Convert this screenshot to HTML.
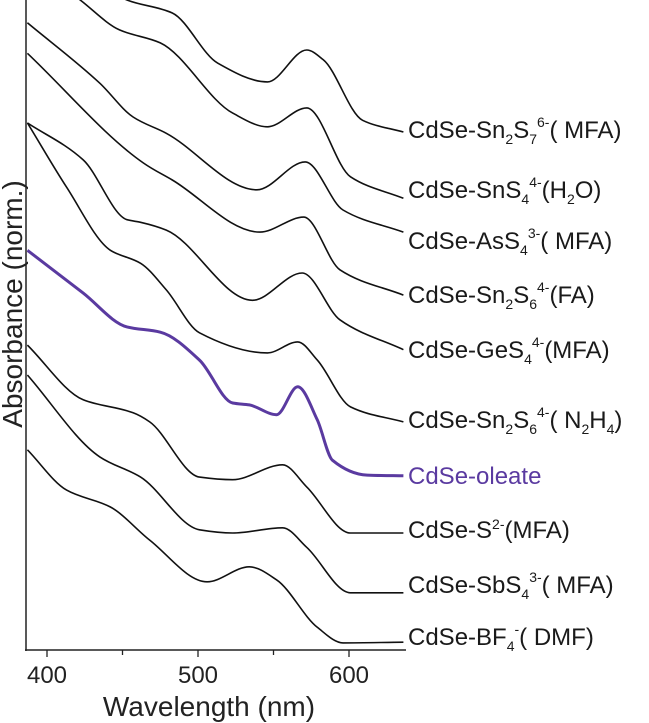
<!DOCTYPE html>
<html><head><meta charset="utf-8"><style>
body{margin:0;background:#fff}
svg{display:block;font-family:"Liberation Sans",Arial,sans-serif}
.lab{font-size:24px;fill:#1a1a1a}
.sub{font-size:14px}
</style></head><body>
<svg id="chart" width="649" height="723" viewBox="0 0 649 723">
<defs><clipPath id="plotclip"><rect x="27" y="0" width="380" height="650"/></clipPath></defs>
<g id="series" clip-path="url(#plotclip)"></g>
<line x1="26" y1="0" x2="26" y2="651" stroke="#222" stroke-width="1.5"/>
<line x1="25" y1="650" x2="406" y2="650" stroke="#222" stroke-width="1.5"/>
<g id="ticks"></g>
<text x="209" y="716" text-anchor="middle" font-size="28" fill="#222">Wavelength (nm)</text>
<text transform="translate(22,304) rotate(-90)" text-anchor="middle" font-size="28" fill="#222">Absorbance (norm.)</text>
<g>
<text class="lab" x="408" y="138">CdSe-Sn<tspan class="sub" dy="6">2</tspan><tspan dy="-6">S</tspan><tspan class="sub" dy="6">7</tspan><tspan class="sub" dy="-17">6-</tspan><tspan dy="11">( MFA)</tspan></text>
<text class="lab" x="408" y="198">CdSe-SnS<tspan class="sub" dy="6">4</tspan><tspan class="sub" dy="-17">4-</tspan><tspan dy="11">(H</tspan><tspan class="sub" dy="6">2</tspan><tspan dy="-6">O)</tspan></text>
<text class="lab" x="408" y="249">CdSe-AsS<tspan class="sub" dy="6">4</tspan><tspan class="sub" dy="-17">3-</tspan><tspan dy="11">( MFA)</tspan></text>
<text class="lab" x="408" y="303">CdSe-Sn<tspan class="sub" dy="6">2</tspan><tspan dy="-6">S</tspan><tspan class="sub" dy="6">6</tspan><tspan class="sub" dy="-17">4-</tspan><tspan dy="11">(FA)</tspan></text>
<text class="lab" x="408" y="358">CdSe-GeS<tspan class="sub" dy="6">4</tspan><tspan class="sub" dy="-17">4-</tspan><tspan dy="11">(MFA)</tspan></text>
<text class="lab" x="408" y="428">CdSe-Sn<tspan class="sub" dy="6">2</tspan><tspan dy="-6">S</tspan><tspan class="sub" dy="6">6</tspan><tspan class="sub" dy="-17">4-</tspan><tspan dy="11">( N</tspan><tspan class="sub" dy="6">2</tspan><tspan dy="-6">H</tspan><tspan class="sub" dy="6">4</tspan><tspan dy="-6">)</tspan></text>
<text class="lab" x="408" y="484" style="fill:#5a3aa0">CdSe-oleate</text>
<text class="lab" x="408" y="538">CdSe-S<tspan class="sub" dy="-9">2-</tspan><tspan dy="9">(MFA)</tspan></text>
<text class="lab" x="408" y="593">CdSe-SbS<tspan class="sub" dy="6">4</tspan><tspan class="sub" dy="-17">3-</tspan><tspan dy="11">( MFA)</tspan></text>
<text class="lab" x="408" y="645">CdSe-BF<tspan class="sub" dy="6">4</tspan><tspan class="sub" dy="-17">-</tspan><tspan dy="11">( DMF)</tspan></text>
</g>
</svg>
<script>
const seriesNames = ["sn2s7","sns4","ass4","sn2s6-fa","ges4","sn2s6-n2h4","oleate","s2","sbs4","bf4"];
const seriesColors = ["#111","#111","#111","#111","#111","#111","#5a3aa0","#111","#111","#111"];
const wl0 = [387,422,453,483,513,546,572,583,609,636];
const ab0 = [11.08,10.46,10,9.8,9.03,8.74,9.23,9.08,8.15,7.97];
const wl1 = [387,422,448,475,523,546,572,601,636];
const ab1 = [10.62,10,9.54,9.34,8.26,8.05,8.34,7.28,6.95];
const wl2 = [387,435,457,479,539,571,596,636];
const ab2 = [9.65,8.72,8.2,7.95,7.08,7.51,6.77,6.43];
const wl3 = [387,464,483,541,570,594,636];
const ab3 = [9.18,7.49,7.23,6.43,6.66,5.85,5.46];
const wl4 = [387,424,453,462,479,536,569,594,636];
const ab4 = [8.11,7.54,6.62,6.58,6.46,5.38,5.8,5.08,4.62];
const wl5 = [387,413,442,462,479,501,546,566,579,601,636];
const ab5 = [8.11,7.12,6.15,5.95,5.54,4.88,4.57,4.74,4.46,3.74,3.51];
const wl6 = [387,424,453,475,501,523,534,552,566,579,589,612,636];
const ab6 = [6.15,5.49,4.97,4.89,4.46,3.8,3.77,3.62,4.05,3.54,2.92,2.69,2.68];
const wl7 = [387,424,457,468,501,523,556,572,601,636];
const ab7 = [4.69,3.85,3.65,3.51,2.66,2.62,2.85,2.51,1.8,1.8];
const wl8 = [387,435,462,501,523,556,572,601,636];
const ab8 = [4.23,2.97,2.66,1.85,1.8,1.88,1.58,0.88,0.88];
const wl9 = [387,413,442,468,506,534,552,579,596,636];
const ab9 = [3.08,2.46,2.2,1.69,1.05,1.28,1.08,0.35,0.11,0.12];
const xTicks = [400,450,500,550,600];
const xTickLabels = ["400","","500","","600"];

const WL = [wl0,wl1,wl2,wl3,wl4,wl5,wl6,wl7,wl8,wl9];
const AB = [ab0,ab1,ab2,ab3,ab4,ab5,ab6,ab7,ab8,ab9];
function xs(l){return 47+(l-400)*1.51;}
function ys(v){return 650-v*65;}
const NS="http://www.w3.org/2000/svg";
function monotone(p){
  const n=p.length, dx=[], m=[], t=[];
  for(let i=0;i<n-1;i++){dx.push(p[i+1][0]-p[i][0]);m.push((p[i+1][1]-p[i][1])/dx[i]);}
  t[0]=m[0];t[n-1]=m[n-2];
  for(let i=1;i<n-1;i++){
    if(m[i-1]*m[i]<=0)t[i]=0;
    else{const w1=2*dx[i]+dx[i-1],w2=dx[i]+2*dx[i-1];t[i]=(w1+w2)/(w1/m[i-1]+w2/m[i]);}
  }
  let d="M"+p[0][0].toFixed(1)+","+p[0][1].toFixed(1);
  for(let i=0;i<n-1;i++){
    const h=dx[i]/3;
    d+="C"+(p[i][0]+h).toFixed(1)+","+(p[i][1]+t[i]*h).toFixed(1)+" "+(p[i+1][0]-h).toFixed(1)+","+(p[i+1][1]-t[i+1]*h).toFixed(1)+" "+p[i+1][0].toFixed(1)+","+p[i+1][1].toFixed(1);
  }
  return d;
}
const g=document.getElementById("series");
for(let s=0;s<WL.length;s++){
  const pts=WL[s].map((l,i)=>[xs(l),ys(AB[s][i])]);
  const path=document.createElementNS(NS,"path");
  path.setAttribute("d",monotone(pts));
  path.setAttribute("fill","none");
  path.setAttribute("stroke",seriesColors[s]);
  path.setAttribute("stroke-width",s===6?"3":"1.6");
  
  
  g.appendChild(path);
}
const tg=document.getElementById("ticks");
xTicks.forEach((t,i)=>{
  const ln=document.createElementNS(NS,"line");
  const x=xs(t);
  ln.setAttribute("x1",x);ln.setAttribute("x2",x);
  ln.setAttribute("y1",650);ln.setAttribute("y2",xTickLabels[i]?657:655);
  ln.setAttribute("stroke","#222");ln.setAttribute("stroke-width","1.3");
  
  
  tg.appendChild(ln);
  if(xTickLabels[i]){
    const tx=document.createElementNS(NS,"text");
    tx.setAttribute("x",x);tx.setAttribute("y",683);
    tx.setAttribute("text-anchor","middle");tx.setAttribute("font-size","24");tx.setAttribute("fill","#222");
    tx.textContent=xTickLabels[i];
    
    
    tg.appendChild(tx);
  }
});
</script>
</body></html>
